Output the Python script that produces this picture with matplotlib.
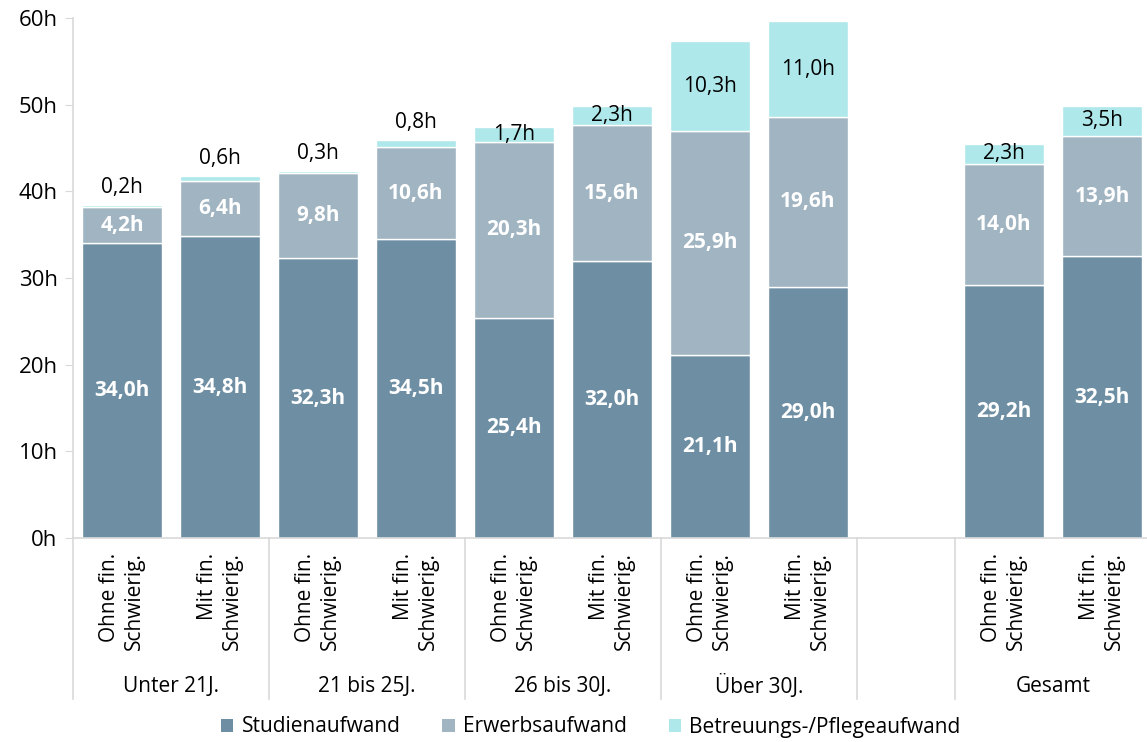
import numpy as np
import matplotlib
matplotlib.use("Agg")
import matplotlib.pyplot as plt
from matplotlib.patches import Patch

plt.rcParams["font.family"] = ["Open Sans", "DejaVu Sans"]

# --- data ---
groups = ["Unter 21J.", "21 bis 25J.", "26 bis 30J.", "Über 30J.", "Gesamt"]
sub_labels = ["Ohne fin.\nSchwierig.", "Mit fin.\nSchwierig."]
# slot positions (slot 8 left empty as a gap)
slots = [0, 1, 2, 3, 4, 5, 6, 7, 9, 10]
studien = [34.0, 34.8, 32.3, 34.5, 25.4, 32.0, 21.1, 29.0, 29.2, 32.5]
erwerb = [4.2, 6.4, 9.8, 10.6, 20.3, 15.6, 25.9, 19.6, 14.0, 13.9]
betreuung = [0.2, 0.6, 0.3, 0.8, 1.7, 2.3, 10.3, 11.0, 2.3, 3.5]
series_names = ["Studienaufwand", "Erwerbsaufwand", "Betreuungs-/Pflegeaufwand"]
colors = ["#6E8FA3", "#A0B4C2", "#AFE8EA"]

fig = plt.figure(figsize=(11.47, 7.42), dpi=100)
ax = fig.add_axes([73 / 1147, 1 - 538 / 742, 1 - 73 / 1147, 520 / 742])

x = np.array(slots)
w = 0.82
s = np.array(studien)
e = np.array(erwerb)
b = np.array(betreuung)

ax.bar(x, s, w, color=colors[0], edgecolor="white", linewidth=1)
ax.bar(x, e, w, bottom=s, color=colors[1], edgecolor="white", linewidth=1)
ax.bar(x, b, w, bottom=s + e, color=colors[2], edgecolor="white", linewidth=1)

fmt = lambda v: f"{v:.1f}h".replace(".", ",")
for xi, si, ei, bi in zip(x, s, e, b):
    ax.text(xi, si / 2, fmt(si), ha="center", va="center", color="white",
            fontsize=15, fontweight="bold")
    ax.text(xi, si + ei / 2, fmt(ei), ha="center", va="center", color="white",
            fontsize=15, fontweight="bold")
    top = si + ei + bi
    yb = si + ei + bi / 2 if bi >= 1 else top + 2.0
    ax.text(xi, yb, fmt(bi), ha="center", va="center", color="black", fontsize=15)

ax.set_ylim(0, 60)
ax.set_xlim(-0.5, (1147 - 73) / 98 - 0.5)
ax.set_yticks(range(0, 61, 10))
ax.set_yticklabels([f"{v}h" for v in range(0, 61, 10)], fontsize=16)
ax.set_xticks([])
for sp in ["top", "right"]:
    ax.spines[sp].set_visible(False)
for sp in ["left", "bottom"]:
    ax.spines[sp].set_color("#D9D9D9")
    ax.spines[sp].set_linewidth(1.2)
ax.tick_params(axis="y", length=6, color="#D9D9D9", pad=5)

trans = ax.get_xaxis_transform()
for i, xi in enumerate(x):
    ax.text(xi, -0.028, sub_labels[i % 2], rotation=90, ha="center", va="top",
            multialignment="right", fontsize=15, transform=trans, linespacing=1.25)

group_centers = [0.5, 2.5, 4.5, 6.5, 9.5]
for g, c in zip(groups, group_centers):
    ax.text(c, -0.285, g, ha="center", va="center", fontsize=15, transform=trans)

for sep in [-0.5, 1.5, 3.5, 5.5, 7.5, 8.5]:
    ax.plot([sep, sep], [0, -0.31], color="#D9D9D9", linewidth=1.2,
            transform=trans, clip_on=False)

handles = [Patch(facecolor=c, label=n) for c, n in zip(colors, series_names)]
fig.legend(handles=handles, loc="center", bbox_to_anchor=(0.515, 1 - 727 / 742),
           ncol=3, frameon=False, fontsize=15, handlelength=0.6, handleheight=0.6,
           handletextpad=0.4, columnspacing=2.0)

fig.savefig("out.png", dpi=100)
